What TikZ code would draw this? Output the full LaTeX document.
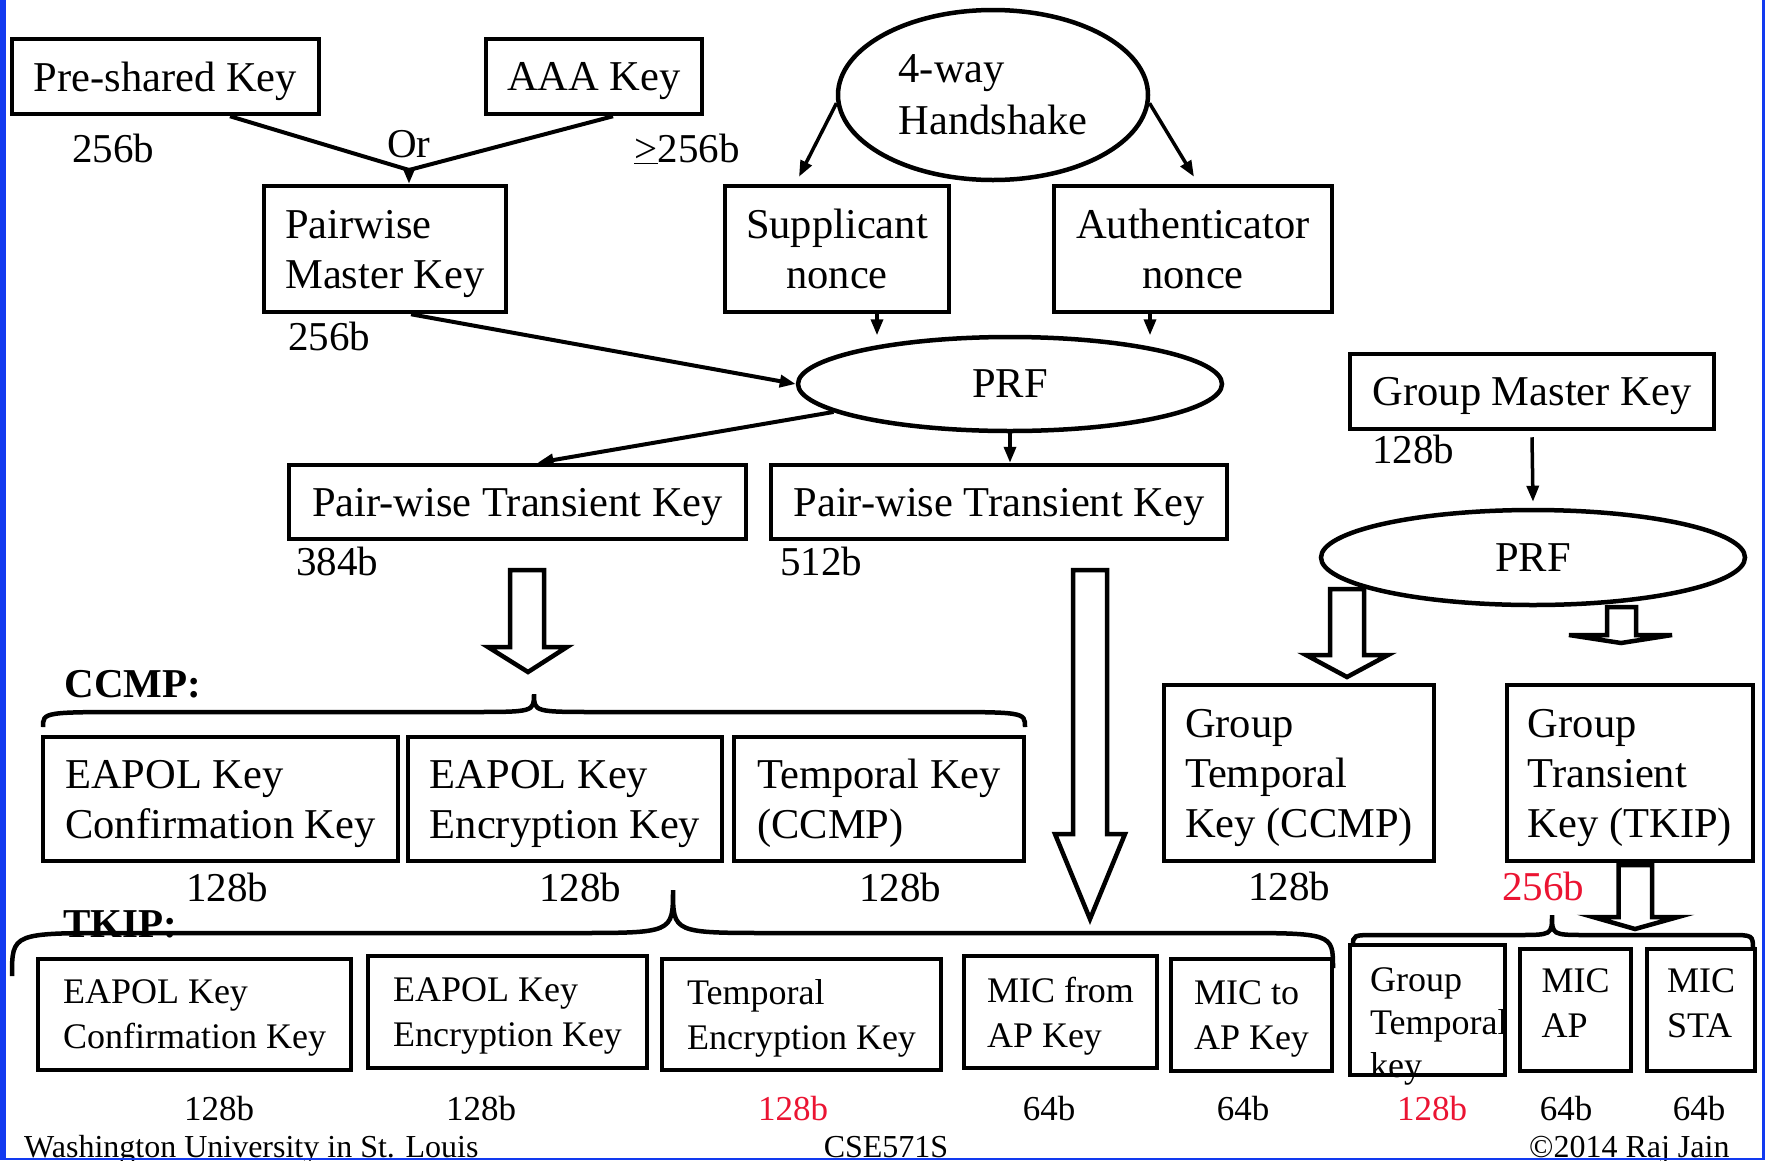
\documentclass[tikz,border=0pt]{standalone}
\usepackage{fontspec}
\setmainfont{Liberation Serif}
\usetikzlibrary{arrows.meta,shapes.geometric}
\definecolor{bordblue}{RGB}{18,58,240}
\definecolor{pred}{RGB}{235,20,50}
\newcommand\fmain{\fontsize{42.5}{50}\selectfont}
\newcommand\fsm{\fontsize{36}{45}\selectfont}
\newcommand\flab{\fontsize{41}{48}\selectfont}
\newcommand\fsml{\fontsize{35}{42}\selectfont}
\newcommand\ffoot{\fontsize{32}{38}\selectfont}
\newcommand\barr[8]{\draw[barrow] (#1,#3) -- (#2,#3) -- (#2,#4) -- (#6,#4) -- (#7,#8) -- (#5,#4) -- (#1,#4) -- cycle;}
\newcommand\bracepath[9]{\draw[bracestyle] (#1,#4) .. controls (#1,#5) .. ({#1+#7},#5) -- ({#2-#8},#5) .. controls (#2,#5) .. (#2,#6) .. controls (#2,#5) .. ({#2+#8},#5) -- ({#3-#7},#5) .. controls (#3,#5) .. (#3,#9);}
\begin{document}
\begin{tikzpicture}[x=1pt,y=-1pt,
 box/.style={draw, line width=4.5pt, inner sep=0pt, align=center, font=\fmain, text depth=0pt},
 lbox/.style={box, align=left},
 sbox/.style={draw, line width=4.5pt, inner sep=0pt, align=left, font=\fsm, text depth=0pt},
 ell/.style={draw, ellipse, line width=4.5pt, inner sep=0pt, font=\fmain},
 lab/.style={inner sep=0pt, font=\flab, anchor=base},
 slab/.style={inner sep=0pt, font=\fsml, anchor=base},
 conn/.style={line width=4pt, line join=miter},
 arr/.style={line width=3.5pt, -{Triangle[length=16pt,width=12pt]}},
 barrow/.style={draw, line width=4.5pt, fill=white, line join=miter},
 bracestyle/.style={line width=4.5pt},
 redtxt/.style={text=pred},
]
\useasboundingbox (0,0) rectangle (1765,1160);

% boxes
\node[box, minimum width=307pt, minimum height=75pt] (psk) at (165.5,76.5) {Pre-shared Key};
\node[box, minimum width=216pt, minimum height=75pt] (aaa) at (594,76.5) {AAA Key};
\node[lbox, minimum width=242pt, minimum height=126pt] (pmk) at (385,249) {Pairwise\\Master Key};
\node[box, minimum width=224pt, minimum height=126pt] (sup) at (837,249) {Supplicant\\nonce};
\node[box, minimum width=278pt, minimum height=126pt] (auth) at (1193,249) {Authenticator\\nonce};
\node[box, minimum width=457pt, minimum height=74pt] (ptk1) at (517.5,502) {Pair-wise Transient Key};
\node[box, minimum width=456pt, minimum height=74pt] (ptk2) at (999,502) {Pair-wise Transient Key};
\node[box, minimum width=364pt, minimum height=75pt] (gmk) at (1532,391.5) {Group Master Key};

\node[lbox, minimum width=355pt, minimum height=124pt] (c1) at (220.5,799) {EAPOL Key\\Confirmation Key};
\node[lbox, minimum width=314pt, minimum height=124pt] (c2) at (565,799) {EAPOL Key\\Encryption Key};
\node[lbox, minimum width=290pt, minimum height=124pt] (c3) at (879,799) {Temporal Key\\(CCMP)};
\node[lbox, minimum width=270pt, minimum height=176pt] (gtkc) at (1299,773) {Group\\Temporal\\Key (CCMP)};
\node[lbox, minimum width=246pt, minimum height=176pt] (gtkt) at (1630,773) {Group\\Transient\\Key (TKIP)};

\node[sbox, minimum width=313pt, minimum height=111pt] (t1) at (194.5,1014.5) {EAPOL Key\\Confirmation Key};
\node[sbox, minimum width=279pt, minimum height=112pt] (t2) at (507.5,1012) {EAPOL Key\\Encryption Key};
\node[sbox, minimum width=279pt, minimum height=111pt] (t3) at (801.5,1014.5) {Temporal\\Encryption Key};
\node[sbox, minimum width=193pt, minimum height=112pt] (t4) at (1060.5,1012) {MIC from\\AP Key};
\node[sbox, minimum width=161pt, minimum height=112pt] (t5) at (1251.5,1015) {MIC to\\AP Key};
\node[sbox, minimum width=155pt, minimum height=130pt] (g1) at (1427.5,1010) {};
\node[inner sep=0pt, anchor=north west, align=left, font=\fontsize{36}{43}\selectfont] (g1t) at (1370,967) {Group\\Temporal\\key};
\node[sbox, minimum width=111pt, minimum height=122pt, text depth=14pt] (g2) at (1575.5,1010) {MIC\\AP};
\node[sbox, minimum width=108pt, minimum height=122pt, text depth=14pt] (g3) at (1701,1010) {MIC\\STA};

% block arrows (drawn before ellipses)
\barr{510}{544}{570}{647}{488}{567}{528}{672}
\barr{1073}{1107}{570}{834}{1055}{1125}{1090}{919}
\barr{1330}{1364}{589}{655}{1306}{1388}{1347}{677}
\barr{1607}{1636}{607}{635}{1569}{1672}{1621}{643}
\barr{1618.5}{1652}{865}{917}{1593}{1678}{1635}{929}

% ellipses
\node[ell, minimum width=310pt, minimum height=170pt, align=left, font=\fontsize{42.5}{52}\selectfont, text depth=-6pt] (hs) at (993,95) {4-way\\Handshake};
\node[ell, minimum width=424pt, minimum height=94pt] (prf1) at (1010,384) {PRF};
\node[ell, minimum width=424pt, minimum height=95pt] (prf2) at (1533,557.5) {PRF};

% connectors
\coordinate (J) at (409,170);
\draw[conn] ([xshift=64.5pt]psk.south) -- (J) -- ([xshift=19pt]aaa.south);
\draw[arr] (J) -- (J |- pmk.north);
\draw[arr] (hs.183) -- ([xshift=-38pt,yshift=7pt]sup.north);
\draw[arr] (hs.357) -- ([xshift=1pt,yshift=7pt]auth.north);
\draw[arr] ([xshift=40pt]sup.south) -- ++(0,21);
\draw[arr] ([xshift=-43pt]auth.south) -- ++(0,21);
\draw[arr, line width=4pt] ([xshift=26pt]pmk.south) -- (prf1.west);
\draw[arr, line width=4pt] (prf1.189) -- ([xshift=20pt]ptk1.north);
\draw[arr] (prf1.south) -- (prf1.south |- ptk2.north);
\draw[arr] ([yshift=-6pt]gmk.south) -- ([yshift=6pt]prf2.north);

% braces
\bracepath{43}{534}{1025}{727}{712}{694}{95}{65}{727}
\bracepath{12}{673}{1333}{976}{933}{890}{106}{100}{968}
\bracepath{1353}{1552}{1753}{946}{935}{915}{24}{35}{950}

% labels
\node[lab] (l1) at (113,162) {256b};
\node[lab] (lor) at (409,157) {Or};
\node[lab] (l2) at (687,162) {\underline{>}256b};
\node[lab] (l3) at (329,350) {256b};
\node[lab] (l4) at (337,575) {384b};
\node[lab] (l5) at (821,575) {512b};
\node[lab] (l6) at (1413,463) {128b};
\node[lab, font=\bfseries\flab] (ccmp) at (133,697) {CCMP:};
\node[lab, font=\bfseries\flab] (tkip) at (120,937) {TKIP:};
\node[lab] (c1b) at (227,901) {128b};
\node[lab] (c2b) at (580,901) {128b};
\node[lab] (c3b) at (900,901) {128b};
\node[lab] (gcb) at (1289,900) {128b};
\node[lab, redtxt] (gtb) at (1543,900) {256b};
\node[slab] (t1b) at (219,1120) {128b};
\node[slab] (t2b) at (481,1120) {128b};
\node[slab, redtxt] (t3b) at (793,1120) {128b};
\node[slab] (t4b) at (1049,1120) {64b};
\node[slab] (t5b) at (1243,1120) {64b};
\node[slab, redtxt] (g1b) at (1432,1120) {128b};
\node[slab] (g2b) at (1566,1120) {64b};
\node[slab] (g3b) at (1699,1120) {64b};

% footer
\node[inner sep=0pt, anchor=base west, font=\ffoot] (f1) at (24,1157) {Washington University in St. Louis};
\node[inner sep=0pt, anchor=base, font=\ffoot] (f2) at (886,1157) {CSE571S};
\node[inner sep=0pt, anchor=base west, font=\ffoot] (f3) at (1529,1157) {©2014 Raj Jain};

% frame
\fill[bordblue] (0,0) rectangle (6,1160);
\fill[bordblue] (1761.5,0) rectangle (1765,1160);
\fill[bordblue] (0,1158) rectangle (1765,1160);
\end{tikzpicture}
\end{document}
